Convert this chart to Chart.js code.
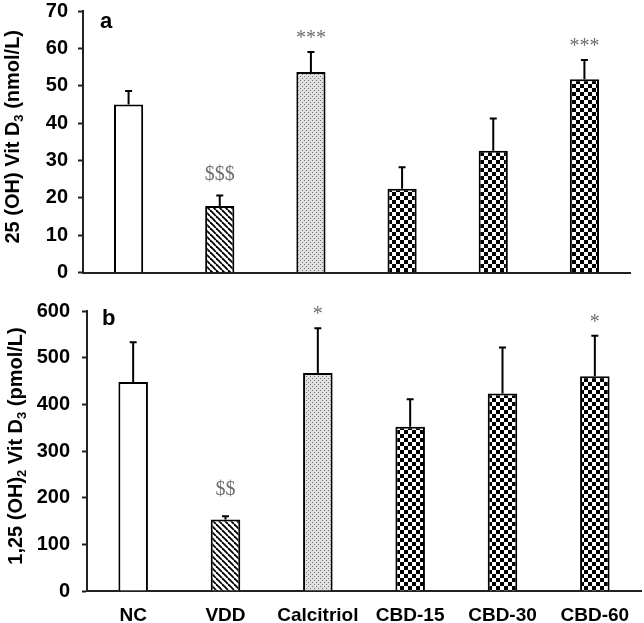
<!DOCTYPE html>
<html>
<head>
<meta charset="utf-8">
<script src="https://cdn.jsdelivr.net/npm/chart.js@4"></script>
<style>
  body { margin: 0; background: #fff; }
  .panel { position: absolute; left: 0; width: 644px; }
  #panelA { top: 0; height: 290px; }
  #panelB { top: 290px; height: 333px; }
</style>
</head>
<body>
<div class="panel" id="panelA"><canvas id="graficoA"></canvas></div>
<div class="panel" id="panelB"><canvas id="graficoB"></canvas></div>
<script>
const grupos = ['NC', 'VDD', 'Calcitriol', 'CBD-15', 'CBD-30', 'CBD-60'];

// a: 25 (OH) Vit D3, nmol/L
const vitD25 = [45.0, 17.8, 53.7, 22.4, 32.6, 51.7];
const vitD25Sd = [3.6, 2.8, 5.3, 5.8, 8.6, 5.2];
const vitD25Sig = ['', '$$$', '***', '', '', '***'];
const ejeA = { max: 70, paso: 10 };

// b: 1,25 (OH)2 Vit D3, pmol/L
const vitD125 = [448, 153, 467, 352, 423, 460];
const vitD125Sd = [85, 7, 96, 59, 99, 87];
const vitD125Sig = ['', '$$', '*', '', '', '*'];
const ejeB = { max: 600, paso: 100 };

const sans = "Arial, 'Liberation Sans', sans-serif";

// rellenos de las barras
const patron = (w, h, dibujar) => {
  const c = document.createElement('canvas');
  c.width = w; c.height = h;
  const ctx = c.getContext('2d');
  ctx.fillStyle = '#fff';
  ctx.fillRect(0, 0, w, h);
  dibujar(ctx);
  return ctx.createPattern(c, 'repeat');
};

const rayas = patron(6, 6, ctx => {
  ctx.strokeStyle = '#000';
  ctx.lineWidth = 1.8;
  for (const o of [-6, 0, 6]) {
    ctx.beginPath(); ctx.moveTo(o, 0); ctx.lineTo(o + 6, 6); ctx.stroke();
  }
});
const puntos = patron(4, 4, ctx => {
  ctx.fillStyle = '#e0e0e0'; ctx.fillRect(0, 0, 4, 4);
  ctx.fillStyle = '#777';
  ctx.fillRect(0, 0, 1, 1); ctx.fillRect(2, 2, 1, 1);
});
const cuadros = patron(8, 8, ctx => {
  ctx.fillStyle = '#000';
  ctx.fillRect(0, 0, 4, 4); ctx.fillRect(4, 4, 4, 4);
});
const rellenos = ['#fff', rayas, puntos, cuadros, cuadros, cuadros];

const dibujarTitulo = (ctx, partes, x, yc, tam) => {
  const fNormal = `bold ${tam}px ${sans}`;
  const fSub = `bold ${Math.round(tam * 0.65)}px ${sans}`;
  ctx.save();
  ctx.translate(x, yc);
  ctx.rotate(-Math.PI / 2);
  ctx.fillStyle = '#000';
  ctx.textBaseline = 'middle';
  ctx.textAlign = 'left';
  let total = 0;
  partes.forEach(([t, sub]) => { ctx.font = sub ? fSub : fNormal; total += ctx.measureText(t).width; });
  let px = -total / 2;
  partes.forEach(([t, sub]) => {
    ctx.font = sub ? fSub : fNormal;
    ctx.fillText(t, px, sub ? tam * 0.3 : 0);
    px += ctx.measureText(t).width;
  });
  ctx.restore();
};

const crearPanel = (id, valores, sd, sig, eje, cfg) => new Chart(document.getElementById(id), {
  type: 'bar',
  data: {
    labels: grupos,
    datasets: [{
      data: valores,
      backgroundColor: rellenos,
      borderColor: '#000',
      borderWidth: 2,
      barPercentage: 0.32,
      categoryPercentage: 1
    }]
  },
  options: {
    responsive: true,
    maintainAspectRatio: false,
    animation: false,
    layout: { padding: { top: cfg.arriba, right: cfg.derecha, left: 0, bottom: 0 } },
    plugins: { legend: { display: false }, tooltip: { enabled: false } },
    scales: {
      x: {
        grid: { drawOnChartArea: false, drawTicks: false },
        border: { color: '#222', width: 2 },
        ticks: { display: cfg.etiquetas, color: '#000', padding: 13, font: { family: sans, size: 19, weight: 'bold' } },
        afterFit: s => { s.height = cfg.altoX; }
      },
      y: {
        min: 0,
        max: eje.max,
        // lineHeight bajo: la etiqueta superior no empuja el área del gráfico
        ticks: { stepSize: eje.paso, color: '#000', padding: cfg.padY, font: { family: sans, size: 20, weight: 'bold', lineHeight: 0.1 } },
        grid: { drawOnChartArea: false, tickLength: 5, tickWidth: 2, color: '#222' },
        border: { color: '#222', width: 2 },
        afterFit: s => { s.width = cfg.izquierda; }
      }
    }
  },
  plugins: [{
    id: 'errores',
    afterDatasetsDraw(chart) {
      const { ctx, scales: { y } } = chart;
      const barras = chart.getDatasetMeta(0).data;
      ctx.save();
      barras.forEach((b, i) => {
        const yTop = y.getPixelForValue(valores[i]);
        const yErr = y.getPixelForValue(valores[i] + sd[i]);
        ctx.strokeStyle = '#000';
        ctx.lineWidth = 2;
        ctx.beginPath();
        ctx.moveTo(b.x, yTop); ctx.lineTo(b.x, yErr);
        ctx.moveTo(b.x - 3.5, yErr); ctx.lineTo(b.x + 3.5, yErr);
        ctx.stroke();
        if (sig[i]) {
          ctx.fillStyle = '#6e6e6e';
          ctx.font = "20px 'Liberation Serif', 'Times New Roman', serif";
          ctx.textAlign = 'center';
          ctx.textBaseline = 'alphabetic';
          const desp = sig[i][0] === '$' ? cfg.despDolar : 8;
          ctx.fillText(sig[i], b.x, yErr - desp);
        }
      });
      ctx.restore();
    },
    afterDraw(chart) {
      const { ctx, chartArea } = chart;
      dibujarTitulo(ctx, cfg.titulo, cfg.xTitulo, (chartArea.top + chartArea.bottom) / 2 - 5, 20);
      ctx.save();
      ctx.fillStyle = '#000';
      ctx.font = `bold 22px ${sans}`;
      ctx.textAlign = 'left';
      ctx.textBaseline = 'alphabetic';
      ctx.fillText(cfg.letra, cfg.xLetra, cfg.yLetra);
      ctx.restore();
    }
  }]
});

crearPanel('graficoA', vitD25, vitD25Sd, vitD25Sig, ejeA, {
  arriba: 10, derecha: 14, izquierda: 83, altoX: 17.5, etiquetas: false, padY: 10,
  despDolar: 16, letra: 'a', xLetra: 100, yLetra: 28, xTitulo: 13,
  titulo: [['25 (OH) Vit D', false], ['3', true], [' (nmol/L)', false]]
});

crearPanel('graficoB', vitD125, vitD125Sd, vitD125Sig, ejeB, {
  arriba: 21, derecha: 3, izquierda: 87, altoX: 32, etiquetas: true, padY: 12,
  despDolar: 21, letra: 'b', xLetra: 102, yLetra: 35, xTitulo: 16,
  titulo: [['1,25 (OH)', false], ['2', true], [' Vit D', false], ['3', true], [' (pmol/L)', false]]
});
</script>
</body>
</html>
